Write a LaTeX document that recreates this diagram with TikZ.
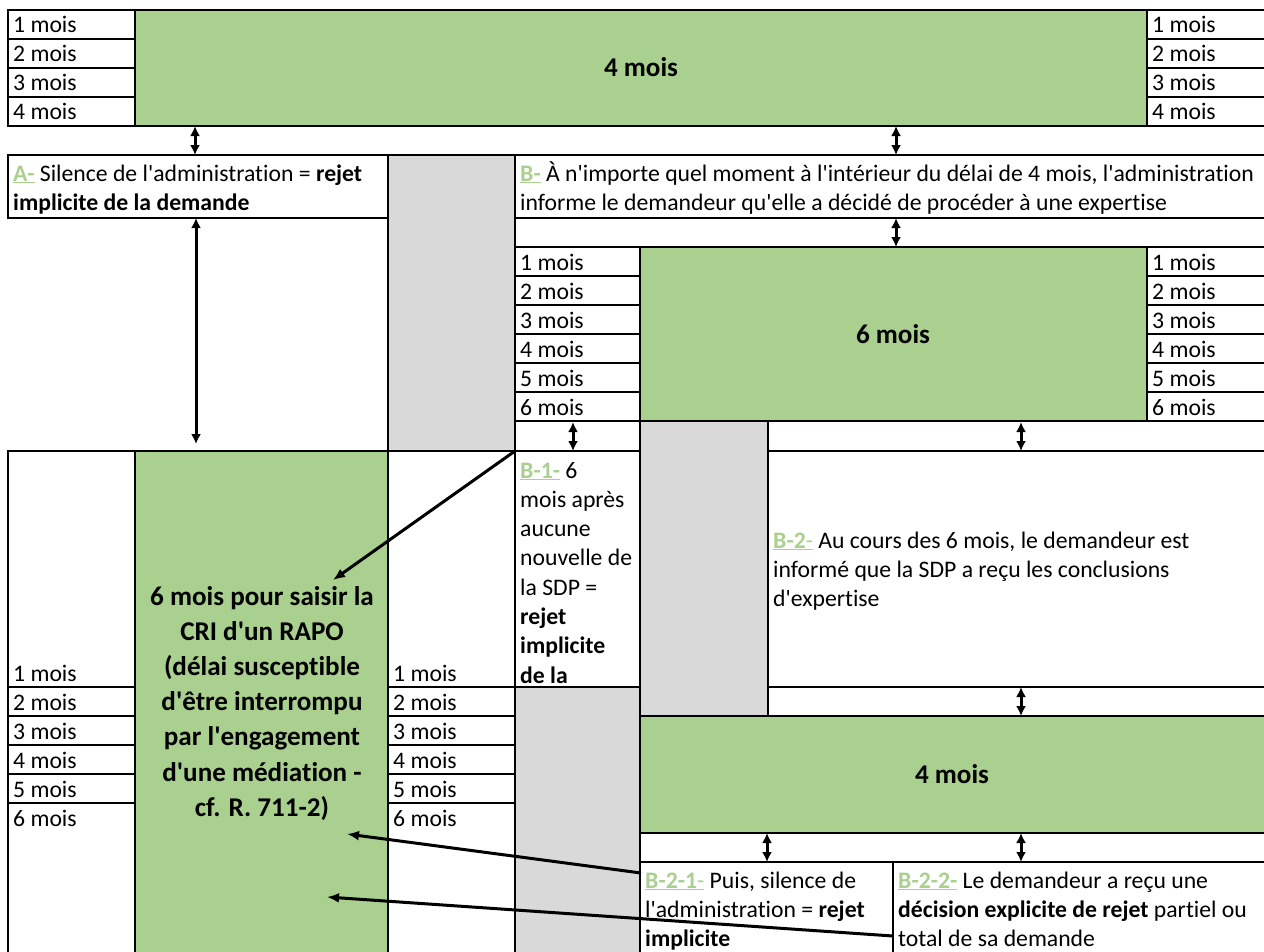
\documentclass[tikz,border=0pt]{standalone}
\usepackage{fontspec}
\setmainfont{Carlito}[Ligatures = {TeXOff, CommonOff}]
\usepackage{tikz}
\usetikzlibrary{arrows.meta}
\definecolor{mgreen}{RGB}{169, 208, 142}
\definecolor{mgrey}{RGB}{217, 217, 217}
\tikzset{cell/.style = {draw, line width = 2}}
\tikzset{txt/.style = {anchor = base west, inner sep = 0, font = \fontsize{23.7}{29.3}\selectfont}}
\tikzset{big/.style = {anchor = base, inner sep = 0, font = \fontsize{27.1}{35}\selectfont\bfseries}}
\tikzset{link/.style = {-{Latex[length = 12, width = 10]}, line width = 3}}
\tikzset{both/.style = {{Latex[length = 10, width = 10]}-{Latex[length = 10, width = 10]}, line width = 3}}
\newcommand{\lab}[2]{\textcolor{mgreen}{\underline{\textbf{#1}#2}}}
\newcommand{\moiscol}[5]{%
  \foreach \k [count = \i] in {#5} {
    \draw [cell] (#2, #4 + 29 * \i - 29) rectangle (#3, #4 + 29 * \i);
    \node [txt] (#1\k) at (#2 + 5, #4 + 29 * \i - 6) {\k~mois};
  }}
\newcommand{\cellpara}[6]{%
  \foreach \l [count = \i from 0] in {#6}
    \node [#1] (#2\i) at (#3, #4 + #5 * \i) {\l};}

\begin{document}
\begin{tikzpicture}[x = 1pt, y = -1pt]
    \clip (0, 0) rectangle (1264, 951);

    \fill [mgreen] (135, 9.5) rectangle (1147, 125.5);
    \fill [mgrey] (388, 155) rectangle (515, 451);
    \fill [mgreen] (640, 247) rectangle (1147, 421);
    \fill [mgrey] (640, 421) rectangle (768, 716);
    \fill [mgreen] (135, 451) rectangle (388, 960);
    \fill [mgrey] (515, 687) rectangle (640, 960);
    \fill [mgreen] (640, 716) rectangle (1270, 833);

    % 4 mois en haut
    \moiscol{ta}{8}{135}{9.5}{1, ..., 4}
    \moiscol{tb}{1147}{1270}{9.5}{1, ..., 4}
    \draw [cell] (135, 9.5) rectangle (1147, 125.5);
    \node [big, anchor = center] (quatre) at (641, 67.5) {4 mois};

    % A et B
    \draw [cell] (8, 155) rectangle (388, 217.5);
    \draw [cell] (388, 155) rectangle (515, 451);
    \draw [cell] (515, 155) rectangle (1270, 217.5);
    \draw [cell] (515, 217.5) rectangle (1270, 247);
    \cellpara{txt}{a}{13}{181}{29}{{\lab{A-}{} Silence de l'administration = \textbf{rejet}}, \textbf{implicite de la demande}}
    \cellpara{txt}{b}{520}{181}{29}{{\lab{B-}{} À n'importe quel moment à l'intérieur du délai de 4 mois, l'administration}, informe le demandeur qu'elle a décidé de procéder à une expertise}

    % 6 mois
    \moiscol{sa}{515}{640}{247}{1, ..., 6}
    \moiscol{sb}{1147}{1270}{247}{1, ..., 6}
    \draw [cell] (640, 247) rectangle (1147, 421);
    \node [big, anchor = center] (six) at (893, 334) {6 mois};
    \draw [cell] (515, 421) rectangle (640, 451);
    \draw [cell] (640, 421) rectangle (768, 716);
    \draw [cell] (768, 421) rectangle (1270, 451);

    % bas gauche
    \draw [cell] (8, 451) rectangle (135, 687);
    \draw [cell] (388, 451) rectangle (515, 687);
    \node [txt] (la1) at (13, 681) {1 mois};
    \node [txt] (lb1) at (393, 681) {1 mois};
    \moiscol{la}{8}{135}{687}{2, ..., 5}
    \moiscol{lb}{388}{515}{687}{2, ..., 5}
    \draw [cell] (8, 803) rectangle (135, 960);
    \draw [cell] (388, 803) rectangle (515, 960);
    \node [txt] (la6) at (13, 826) {6 mois};
    \node [txt] (lb6) at (393, 826) {6 mois};
    \draw [cell] (135, 451) rectangle (388, 960);
    \cellpara{big}{cri}{262}{605}{35.2}{{6 mois pour saisir la}, {CRI d'un RAPO}, {(délai susceptible}, {d'être interrompu}, {par l'engagement}, {d'une médiation -}, {cf. R. 711-2)}}

    % B-1 et B-2
    \draw [cell] (515, 451) rectangle (640, 687);
    \cellpara{txt}{bun}{520}{478}{29.3}{\lab{B-1-}{} 6, mois après, aucune, nouvelle de, la SDP =, \textbf{rejet}, \textbf{implicite}, \textbf{de la}}
    \draw [cell] (768, 451) rectangle (1270, 687);
    \cellpara{txt}{bdeux}{773}{548}{29.3}{{\lab{B-2}{-} Au cours des 6 mois, le demandeur est}, informé que la SDP a reçu les conclusions, d'expertise}
    \draw [cell] (515, 687) rectangle (640, 960);
    \draw [cell] (768, 687) rectangle (1270, 716);
    \draw [cell] (640, 716) rectangle (1270, 833);
    \node [big, anchor = center] (quatrebis) at (952, 774) {4 mois};
    \draw [cell] (640, 833) rectangle (1270, 862);
    \draw [cell] (640, 862) rectangle (893, 960);
    \draw [cell] (893, 862) rectangle (1270, 960);
    \cellpara{txt}{bdun}{645}{888}{29.3}{{\lab{B-2-1}{-} Puis, silence de}, l'administration = \textbf{rejet}, \textbf{implicite}}
    \cellpara{txt}{bdd}{898}{888}{29.3}{\lab{B-2-2-}{} Le demandeur a reçu une, \textbf{décision explicite de rejet} partiel ou, total de sa demande}

    % fleches
    \coordinate (aTop) at (195, 126);
    \coordinate (aBot) at (195, 155);
    \coordinate (bTop) at (896, 126);
    \coordinate (bBot) at (896, 155);
    \coordinate (aLongTop) at (196, 218);
    \coordinate (aLongBot) at (196, 444);
    \coordinate (bsTop) at (896, 218);
    \coordinate (bsBot) at (896, 247);
    \coordinate (bunTop) at (573, 422);
    \coordinate (bunBot) at (573, 451);
    \coordinate (bdeuxTop) at (1021, 422);
    \coordinate (bdeuxBot) at (1021, 451);
    \coordinate (qTop) at (1021, 687);
    \coordinate (qBot) at (1021, 716);
    \coordinate (dunTop) at (767, 833);
    \coordinate (dunBot) at (767, 862);
    \coordinate (ddTop) at (1021, 833);
    \coordinate (ddBot) at (1021, 862);
    \draw [both] (aTop) -- (aBot);
    \draw [both] (bTop) -- (bBot);
    \draw [both] (aLongTop) -- (aLongBot);
    \draw [both] (bsTop) -- (bsBot);
    \draw [both] (bunTop) -- (bunBot);
    \draw [both] (bdeuxTop) -- (bdeuxBot);
    \draw [both] (qTop) -- (qBot);
    \draw [both] (dunTop) -- (dunBot);
    \draw [both] (ddTop) -- (ddBot);

    \coordinate (bunCorner) at (515, 451);
    \coordinate (criA) at (333, 580);
    \coordinate (dunLeft) at (641, 873);
    \coordinate (criB) at (347, 834);
    \coordinate (ddLeft) at (893, 936);
    \coordinate (criC) at (327, 897);
    \draw [link] (bunCorner) -- (criA);
    \draw [link] (dunLeft) -- (criB);
    \draw [link] (ddLeft) -- (criC);
\end{tikzpicture}
\end{document}
